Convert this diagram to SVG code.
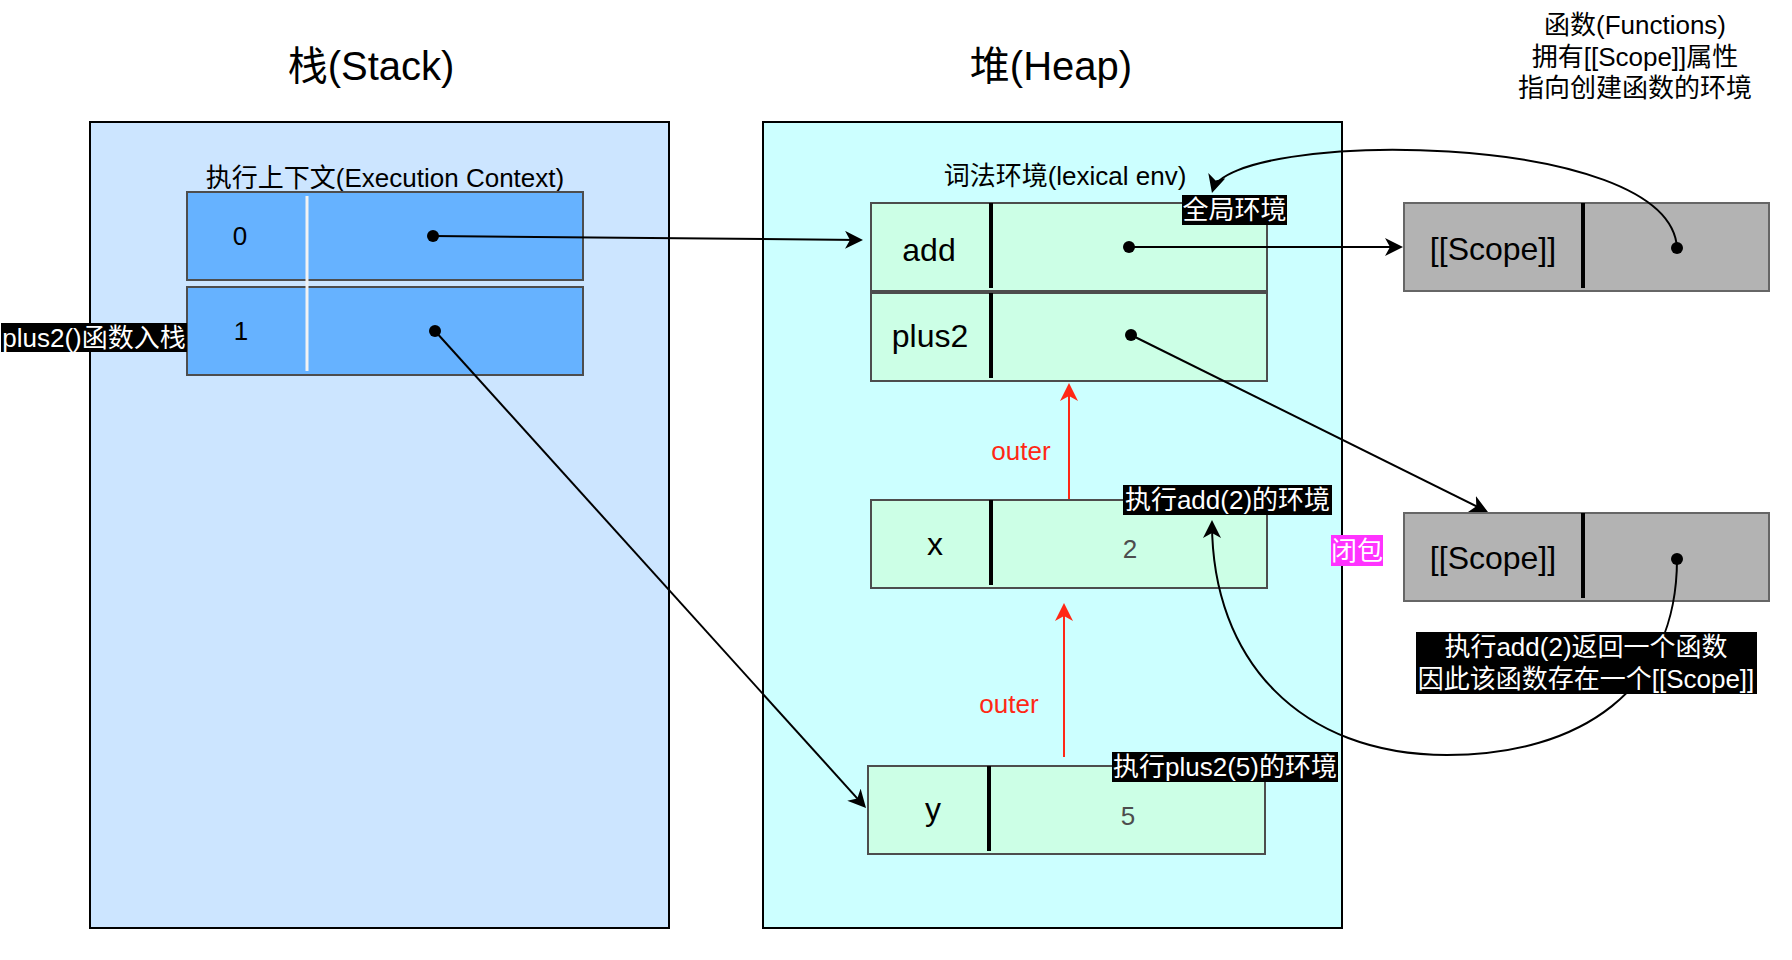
<svg xmlns="http://www.w3.org/2000/svg" width="1792" height="960" viewBox="0 0 1792 960">
<style>
text{font-family:"Liberation Sans","Noto Sans CJK SC",sans-serif;text-anchor:middle;}
.title{font-size:40px;fill:#000;}
.t26{font-size:26px;fill:#000;}
.t32{font-size:32px;fill:#000;}
.val{font-size:26px;fill:#4D4D4D;}
.wt{font-size:26px;fill:#FFF;}
.red{font-size:26px;fill:#FF2815;}
.area{stroke:#000;stroke-width:2;}
.srow{fill:#66B2FF;stroke:#4D4D4D;stroke-width:2;}
.erow{fill:#CCFFE6;stroke:#4D4D4D;stroke-width:2;}
.scope{fill:#B3B3B3;stroke:#666;stroke-width:2;}
.div{stroke:#000;stroke-width:4;}
.wdiv{stroke:#F2F2F2;stroke-width:3;}
.dot{fill:#000;}
.lbl{fill:#000;}
.conn{fill:none;stroke:#000;stroke-width:2;marker-end:url(#ab);}
.rconn{fill:none;stroke:#FF2815;stroke-width:2;marker-end:url(#ar);}
</style>
<defs>
<marker id="ab" viewBox="0 0 18 18" refX="15" refY="9" markerWidth="18" markerHeight="18" orient="auto" markerUnits="userSpaceOnUse"><path d="M0,0 L18,9 L0,18 L5,9 Z" fill="#000"/></marker>
<marker id="ar" viewBox="0 0 18 18" refX="15" refY="9" markerWidth="18" markerHeight="18" orient="auto" markerUnits="userSpaceOnUse"><path d="M0,0 L18,9 L0,18 L5,9 Z" fill="#FF2815"/></marker>
</defs>
<rect width="1792" height="960" fill="#FFF"/>

<g id="stack-title"><text class="title" x="371" y="80">栈(Stack)</text></g>
<g id="heap-title"><text class="title" x="1051" y="80">堆(Heap)</text></g>
<g id="functions-note">
<text class="t26" x="1635" y="34">函数(Functions)</text>
<text class="t26" x="1635" y="66">拥有[[Scope]]属性</text>
<text class="t26" x="1635" y="97">指向创建函数的环境</text>
</g>

<g id="stack"><rect class="area" x="90" y="122" width="579" height="806" fill="#CCE5FF"/>
<text class="t26" x="385" y="187">执行上下文(Execution Context)</text></g>
<g id="heap"><rect class="area" x="763" y="122" width="579" height="806" fill="#CCFFFF"/>
<text class="t26" x="1065" y="185">词法环境(lexical env)</text></g>

<g id="ec0"><rect class="srow" x="187" y="192" width="396" height="88"/><text class="t26" x="240" y="245">0</text></g>
<g id="ec1"><rect class="srow" x="187" y="287" width="396" height="88"/><text class="t26" x="241" y="340">1</text></g>
<line class="wdiv" x1="307" y1="196" x2="307" y2="371"/>

<g id="env-add"><rect class="erow" x="871" y="203" width="396" height="88"/><line class="div" x1="991" y1="203" x2="991" y2="288"/><text class="t32" x="929" y="261">add</text></g>
<g id="env-plus2"><rect class="erow" x="871" y="293" width="396" height="88"/><line class="div" x1="991" y1="293" x2="991" y2="378"/><text class="t32" x="930" y="347">plus2</text></g>
<g id="env-x"><rect class="erow" x="871" y="500" width="396" height="88"/><line class="div" x1="991" y1="500" x2="991" y2="585"/><text class="t32" x="935" y="555">x</text><text class="val" x="1130" y="558">2</text></g>
<g id="env-y"><rect class="erow" x="868" y="766" width="397" height="88"/><line class="div" x1="989" y1="766" x2="989" y2="851"/><text class="t32" x="933" y="820">y</text><text class="val" x="1128" y="825">5</text></g>

<g id="scope1"><rect class="scope" x="1404" y="203" width="365" height="88"/><line class="div" x1="1583" y1="203" x2="1583" y2="288"/><text class="t32" x="1493" y="260">[[Scope]]</text></g>
<g id="scope2"><rect class="scope" x="1404" y="513" width="365" height="88"/><line class="div" x1="1583" y1="513" x2="1583" y2="598"/><text class="t32" x="1493" y="569">[[Scope]]</text></g>

<g id="connectors">
<path class="conn" d="M433,236 L860,240"/>
<path class="conn" d="M435,331 L864,805.8"/>
<path class="conn" d="M1129,247 L1400,247"/>
<path class="conn" d="M1131,335 L1485.3,510.7"/>
<path class="conn" d="M1677,248 C1670,128 1230,130 1212.8,190"/>
<path class="conn" d="M1677,559 C1677,690 1580,755 1447,755 C1300,755 1212,660 1212,523"/>
<path class="rconn" d="M1069,499 L1069,386"/>
<path class="rconn" d="M1064,757 L1064,606"/>
</g>

<g id="dots">
<circle class="dot" cx="433" cy="236" r="6"/>
<circle class="dot" cx="435" cy="331" r="6"/>
<circle class="dot" cx="1129" cy="247" r="6"/>
<circle class="dot" cx="1131" cy="335" r="6"/>
<circle class="dot" cx="1677" cy="248" r="6"/>
<circle class="dot" cx="1677" cy="559" r="6"/>
</g>

<g id="outer1"><text class="red" x="1021" y="460">outer</text></g>
<g id="outer2"><text class="red" x="1009" y="713">outer</text></g>

<g id="label-push"><rect class="lbl" x="1" y="323" width="186" height="29"/><text class="wt" x="94" y="347">plus2()函数入栈</text></g>
<g id="label-global"><rect class="lbl" x="1182" y="195" width="105" height="30"/><text class="wt" x="1234.5" y="219">全局环境</text></g>
<g id="label-add2"><rect class="lbl" x="1123" y="485" width="209" height="30"/><text class="wt" x="1227.5" y="509">执行add(2)的环境</text></g>
<g id="label-plus25"><rect class="lbl" x="1112" y="752" width="226" height="30"/><text class="wt" x="1225" y="776">执行plus2(5)的环境</text></g>
<g id="label-closure"><rect x="1331" y="535" width="52" height="31" fill="#FF33FF"/><text class="wt" x="1357" y="560">闭包</text></g>
<g id="label-return"><rect class="lbl" x="1416" y="632" width="341" height="62"/>
<text class="wt" x="1586" y="656">执行add(2)返回一个函数</text>
<text class="wt" x="1586" y="688">因此该函数存在一个[[Scope]]</text></g>
</svg>
